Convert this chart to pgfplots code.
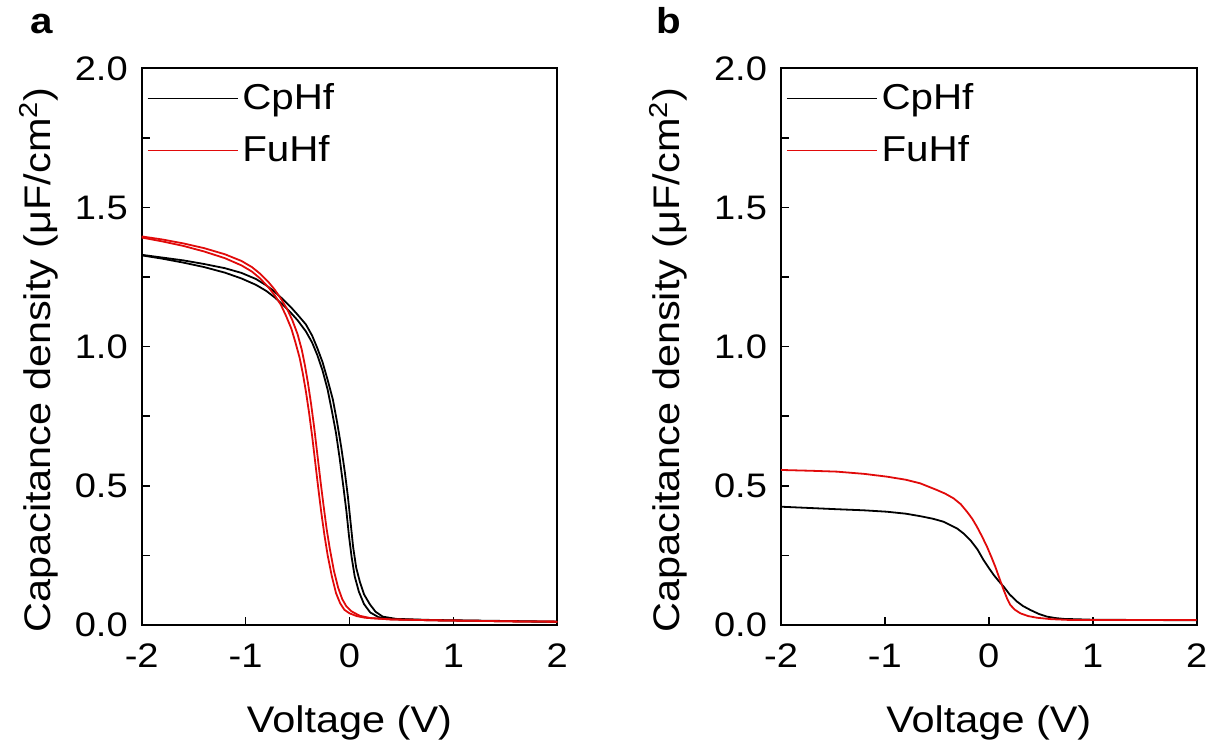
\documentclass[border=0pt]{standalone}
\usepackage{fontspec}
\setmainfont{Liberation Sans}[FakeStretch=1.12]
\usepackage{pgfplots}
\pgfplotsset{compat=1.18}

\definecolor{cred}{RGB}{225,10,10}

\pgfplotsset{
  cvstyle/.style={
    scale only axis, width=207.8pt, height=278.35pt,
    xmin=-2, xmax=2, ymin=0, ymax=2,
    xtick={-2,-1,0,1,2}, xticklabels={-2,-1,0,1,2},
    ytick={0,0.5,1,1.5,2}, yticklabels={0.0,0.5,1.0,1.5,2.0},
    minor ytick={0.25,0.75,1.25,1.75},
    tick pos=left, tick align=inside,
    major tick length=4pt, minor tick length=4pt,
    every tick/.style={black, line width=0.8pt},
    axis line style={line width=0.9pt},
    ticklabel style={font=\fontsize{17}{20}\selectfont},
    xticklabel style={anchor=base, yshift=-21pt, inner sep=0pt},
    yticklabel style={anchor=east, xshift=-6.8pt, inner sep=0pt},
    xlabel={Voltage (V)},
    xlabel style={font=\fontsize{18.5}{22}\selectfont, at={(axis description cs:0.5,0)}, anchor=base, yshift=-53.5pt, inner sep=0pt},
    ylabel={Capacitance density (μF/cm\textsuperscript{2})},
    ylabel style={font=\fontsize{18.5}{22}\selectfont, anchor=base, inner sep=0pt},
    legend image code/.code={\draw[#1, line width=0.6pt] (0pt,0pt) -- (45pt,0pt);},
    legend style={draw=none, fill=none, at={(axis description cs:0.012,0.98)}, anchor=north west,
      font=\fontsize{18}{21}\selectfont, inner sep=0pt, row sep=7.5pt,
      nodes={inner sep=2pt}},
    legend cell align=left,
  }
}

\begin{document}
\begin{tikzpicture}

% panel a
\begin{axis}[cvstyle, at={(70.85pt,63pt)}, anchor=south west,
  ylabel style={at={(axis description cs:-0.2206,0.476)}}]
% CpHf, sweep 1
\addplot[black, line width=0.9pt] coordinates {
(-2,1.330) (-1.8,1.320) (-1.6,1.310) (-1.4,1.297) (-1.2,1.282) (-1.04,1.265)
(-0.9,1.243) (-0.8,1.220) (-0.72,1.197) (-0.64,1.170) (-0.56,1.140) (-0.5,1.115)
(-0.42,1.080) (-0.36,1.040) (-0.31,0.995) (-0.26,0.945)
(-0.21,0.880) (-0.16,0.810) (-0.12,0.730) (-0.08,0.640) (-0.045,0.550) (-0.015,0.460)
(0.01,0.370) (0.035,0.280) (0.065,0.205) (0.10,0.155) (0.14,0.110) (0.195,0.075)
(0.25,0.048) (0.32,0.030) (0.45,0.022) (0.8,0.018) (1.2,0.016) (1.6,0.014) (2,0.012)
};
\addlegendentry{CpHf}
% CpHf, sweep 2
\addplot[black, line width=0.9pt, forget plot] coordinates {
(-2,1.328) (-1.8,1.316) (-1.6,1.302) (-1.4,1.286) (-1.2,1.266) (-1.04,1.245)
(-0.9,1.222) (-0.8,1.200) (-0.72,1.177) (-0.64,1.150) (-0.56,1.120) (-0.5,1.095)
(-0.42,1.055) (-0.36,1.015) (-0.31,0.970) (-0.26,0.915)
(-0.21,0.845) (-0.17,0.770) (-0.13,0.690) (-0.095,0.600) (-0.06,0.500) (-0.03,0.410)
(-0.005,0.320) (0.02,0.245) (0.05,0.175) (0.09,0.120) (0.14,0.075) (0.20,0.045)
(0.28,0.028) (0.4,0.021) (0.8,0.017) (1.2,0.015) (1.6,0.013) (2,0.011)
};
% FuHf, sweep 1
\addplot[cred, line width=0.9pt] coordinates {
(-2,1.396) (-1.8,1.385) (-1.6,1.371) (-1.4,1.354) (-1.2,1.332) (-1.04,1.308)
(-0.94,1.286) (-0.86,1.262) (-0.78,1.232) (-0.72,1.205) (-0.66,1.172) (-0.60,1.135)
(-0.55,1.095) (-0.50,1.045) (-0.46,0.990) (-0.43,0.935) (-0.40,0.870)
(-0.37,0.795) (-0.34,0.710) (-0.31,0.615) (-0.28,0.520) (-0.25,0.430) (-0.22,0.345)
(-0.19,0.275) (-0.15,0.195) (-0.11,0.135) (-0.07,0.093) (-0.03,0.067)
(0.02,0.049) (0.10,0.033) (0.2,0.025) (0.4,0.020) (0.8,0.017) (1.2,0.015) (1.6,0.013) (2,0.012)
};
\addlegendentry{FuHf}
% FuHf, sweep 2
\addplot[cred, line width=0.9pt, forget plot] coordinates {
(-2,1.392) (-1.8,1.378) (-1.6,1.362) (-1.4,1.342) (-1.2,1.318) (-1.04,1.292)
(-0.94,1.270) (-0.86,1.245) (-0.78,1.213) (-0.72,1.185) (-0.66,1.150) (-0.61,1.110)
(-0.56,1.065) (-0.52,1.015) (-0.48,0.960) (-0.45,0.905) (-0.42,0.840) (-0.39,0.765)
(-0.36,0.680) (-0.33,0.585) (-0.30,0.490) (-0.27,0.400) (-0.24,0.320)
(-0.21,0.250) (-0.17,0.175) (-0.13,0.115) (-0.09,0.078) (-0.05,0.055)
(0.0,0.042) (0.07,0.032) (0.15,0.026) (0.4,0.020) (0.8,0.017) (1.2,0.015) (1.6,0.013) (2,0.012)
};
\end{axis}

% panel b
\begin{axis}[cvstyle, at={(390.5pt,63pt)}, anchor=south west,
  ylabel style={at={(axis description cs:-0.2434,0.476)}}]
\addplot[black, line width=0.9pt] coordinates {
(-2,0.425) (-1.7,0.420) (-1.463,0.416) (-1.2,0.412) (-0.981,0.407) (-0.8,0.400)
(-0.66,0.391) (-0.54,0.382) (-0.435,0.371) (-0.306,0.347) (-0.24,0.328) (-0.178,0.305)
(-0.11,0.272) (-0.05,0.233) (0.0,0.205) (0.047,0.180) (0.095,0.158) (0.143,0.138)
(0.20,0.110) (0.272,0.084) (0.33,0.068) (0.40,0.054) (0.48,0.040) (0.561,0.030)
(0.64,0.025) (0.72,0.022) (1.0,0.019) (1.5,0.018) (2,0.017)
};
\addlegendentry{CpHf}
\addplot[cred, line width=0.9pt] coordinates {
(-2,0.557) (-1.7,0.554) (-1.463,0.551) (-1.2,0.543) (-0.981,0.533) (-0.8,0.522)
(-0.66,0.509) (-0.50,0.485) (-0.42,0.472) (-0.339,0.455) (-0.27,0.434) (-0.21,0.407)
(-0.16,0.382) (-0.114,0.353) (-0.065,0.318) (-0.017,0.281) (0.023,0.246) (0.063,0.209)
(0.10,0.170) (0.143,0.126) (0.175,0.096) (0.207,0.072) (0.25,0.055) (0.304,0.042)
(0.38,0.032) (0.465,0.026) (0.6,0.021) (0.786,0.018) (1.2,0.018) (1.6,0.018) (2,0.018)
};
\addlegendentry{FuHf}
\end{axis}

\node[font=\bfseries\fontsize{18}{21}\selectfont, anchor=base west, inner sep=0pt] at (15pt,358.8pt) {a};
\node[font=\bfseries\fontsize{18}{21}\selectfont, anchor=base west, inner sep=0pt] at (328pt,358.8pt) {b};

\pgfresetboundingbox
\path (0pt,0pt) rectangle (609pt,375.5pt);
\end{tikzpicture}
\end{document}
